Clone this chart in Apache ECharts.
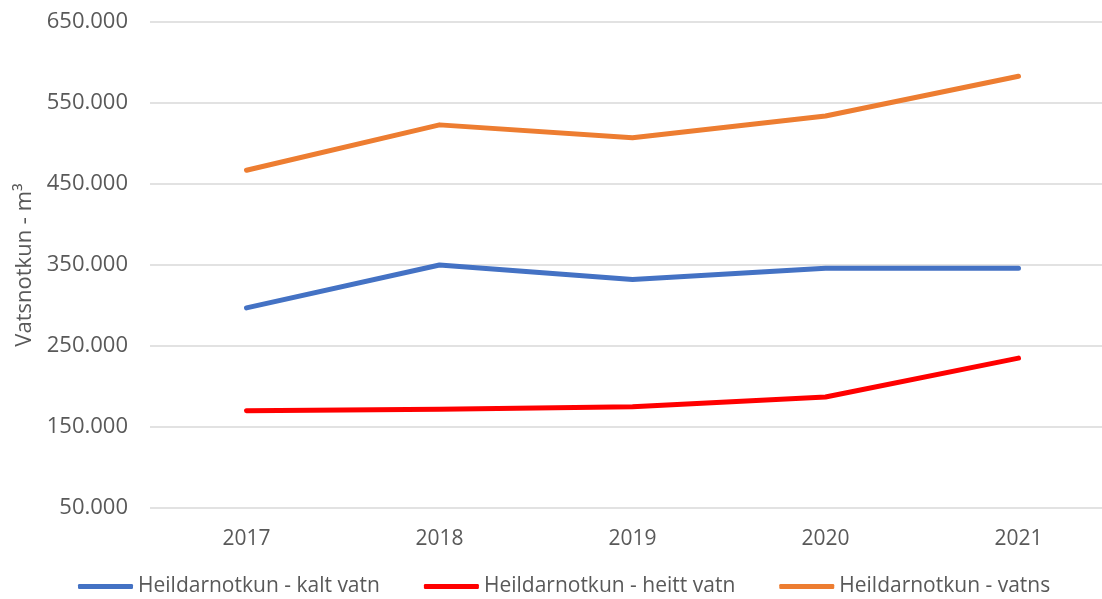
<!DOCTYPE html>
<html>
<head>
<meta charset="utf-8">
<script src="https://cdn.jsdelivr.net/npm/echarts@6/dist/echarts.min.js"></script>
<style>
  html, body { margin: 0; padding: 0; background: #fff; }
  #chart { width: 1102px; height: 599px; }
</style>
</head>
<body>
<div id="chart"></div>
<script>
// data
const years = ['2017', '2018', '2019', '2020', '2021']
const kaltVatn = [297000, 350000, 332000, 346000, 346000]
const heittVatn = [170000, 172000, 175000, 187000, 235000]
const vatns = [467000, 523000, 507000, 534000, 583000]
const seriesNames = ['Heildarnotkun - kalt vatn', 'Heildarnotkun - heitt vatn', 'Heildarnotkun - vatns']

const font = '"Open Sans", "Noto Sans", sans-serif'
const textColor = '#595959'

// 650000 -> "650.000"
function dotThousands(v) {
  return String(v).replace(/\B(?=(\d{3})+(?!\d))/g, '.')
}

const myChart = echarts.init(document.getElementById('chart'))

function line(name, data, color) {
  return {
    name: name,
    type: 'line',
    data: data,
    symbol: 'none',
    lineStyle: { width: 5, color: color, cap: 'round', join: 'round' },
    itemStyle: { color: color }
  }
}

myChart.setOption({
  animation: false,
  textStyle: { fontFamily: font },
  grid: { left: 150, top: 22, width: 965, height: 486, outerBoundsMode: 'none' },
  legend: {
    top: 571,
    left: 73,
    itemWidth: 55,
    itemHeight: 5,
    itemGap: 44,
    icon: 'roundRect',
    textStyle: { fontSize: 21, color: textColor, fontFamily: font }
  },
  xAxis: {
    type: 'category',
    data: years,
    boundaryGap: true,
    axisLine: { show: false },
    axisTick: { show: false },
    axisLabel: { fontSize: 21, color: textColor, margin: 21 }
  },
  yAxis: {
    type: 'value',
    min: 50000,
    max: 650000,
    interval: 100000,
    name: 'Vatsnotkun - m³',
    nameLocation: 'middle',
    nameGap: 108,
    nameTextStyle: { fontSize: 22, color: textColor },
    axisLine: { show: false },
    axisTick: { show: false },
    axisLabel: { fontSize: 22, color: textColor, margin: 22, formatter: dotThousands },
    splitLine: { lineStyle: { color: '#d9d9d9', width: 1.5 } }
  },
  series: [
    line(seriesNames[0], kaltVatn, '#4472C4'),
    line(seriesNames[1], heittVatn, '#FF0000'),
    line(seriesNames[2], vatns, '#ED7D31')
  ]
})
</script>
</body>
</html>
